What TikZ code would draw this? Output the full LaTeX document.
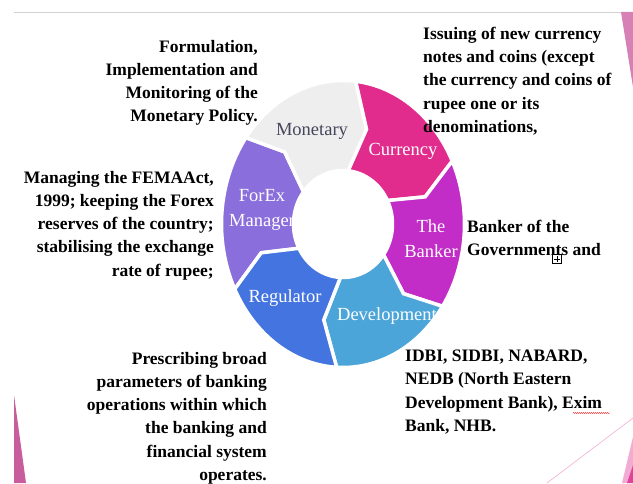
\documentclass[tikz,border=0pt]{standalone}
\usepackage{fontspec}
\setmainfont{Liberation Serif}
\usetikzlibrary{decorations.pathmorphing}
\definecolor{monetary}{HTML}{EEEEEE}
\definecolor{currency}{HTML}{E22C8D}
\definecolor{banker}{HTML}{C22CC7}
\definecolor{develop}{HTML}{4BA5D9}
\definecolor{regulator}{HTML}{4474E0}
\definecolor{forex}{HTML}{8A6EDC}
\definecolor{labelgray}{HTML}{46465A}
\definecolor{rose}{HTML}{D680B5}
\definecolor{roseleft}{HTML}{C95C9C}
\definecolor{roselight}{HTML}{F2ACD3}
\definecolor{rosedark}{HTML}{E0449A}
\begin{document}
\begin{tikzpicture}[x=1pt,y=1pt,
  desc/.style={font=\fontsize{17.5}{23.2}\selectfont\bfseries,inner sep=0pt},
  seglabel/.style={font=\fontsize{18.5}{25}\selectfont,text=white,align=center,inner sep=0pt}]
\useasboundingbox (0,0) rectangle (633,483);
% slide trim
\draw[black!18,line width=1pt] (14,470)--(633,470);
\fill[rose] (621,471)--(633,471)--(633,396)--cycle;
\fill[roseleft] (14,88)--(14,0)--(26,0)--cycle;
\draw[roselight,line width=.6pt] (547,0)--(633,65);
\fill[roselight] (633,46)--(622,0)--(633,0)--cycle;
\fill[rosedark] (633,18)--(627,0)--(633,0)--cycle;
% ring of six arrows, white outline gives the gaps
\begin{scope}[shift={(343,259)}]
\foreach \a/\b/\c in {207/143/forex,143/84/monetary,84/26/currency,26/-35/banker,-35/-93/develop,-93/-153/regulator}
  \filldraw[fill=\c,draw=white,line width=3.5pt]
    (\a:121.5pt and 143.5pt) arc[start angle=\a,end angle=\b,x radius=121.5pt,y radius=143.5pt]
    --({\b-10}:85.5pt and 98.5pt)--(\b:49.5pt and 53.5pt)
    arc[start angle=\b,end angle=\a,x radius=49.5pt,y radius=53.5pt]
    --({\a-10}:85.5pt and 98.5pt)--cycle;
\end{scope}
\node[seglabel,text=labelgray] (monetary) at (312,352) {Monetary};
\node[seglabel] (currency) at (403,332) {Currency};
\node[seglabel] (banker) at (431,244) {The\\Banker};
\node[seglabel] (development) at (387,167) {Development};
\node[seglabel] (regulator) at (285,185) {Regulator};
\node[seglabel] (forex) at (262,273) {ForEx\\Manager};
% descriptions
\node[desc,anchor=north east,align=right] (policy) at (258,443) {Formulation,\\Implementation and\\Monitoring of the\\Monetary Policy.};
\node[desc,anchor=north west,align=left] (issue) at (423,456) {Issuing of new currency\\notes and coins (except\\the currency and coins of\\rupee one or its\\denominations,};
\node[desc,anchor=north east,align=right] (fema) at (214,312) {Managing the FEMAAct,\\1999; keeping the Forex\\reserves of the country;\\stabilising the exchange\\rate of rupee;};
\node[desc,anchor=north west,align=left] (govt) at (467,263) {Banker of the\\Governments and};
\node[desc,anchor=north east,align=right] (prescribe) at (267,131) {Prescribing broad\\parameters of banking\\operations within which\\the banking and\\financial system\\operates.};
\node[desc,anchor=north west,align=left] (idbi) at (405,133) {IDBI, SIDBI, NABARD,\\NEDB (North Eastern\\Development Bank), Exim\\Bank, NHB.};
\draw[red,decorate,decoration={snake,amplitude=.5pt,segment length=2pt}] (573,70)--(610,70);
% resize handle
\node[draw,line width=.6pt,minimum size=9pt,inner sep=0pt] (handle) at (557,224) {};
\draw[line width=.6pt] ([yshift=-2pt]handle.north)--([yshift=2pt]handle.south)
  ([xshift=2pt]handle.west)--([xshift=-2pt]handle.east);
\end{tikzpicture}
\end{document}
